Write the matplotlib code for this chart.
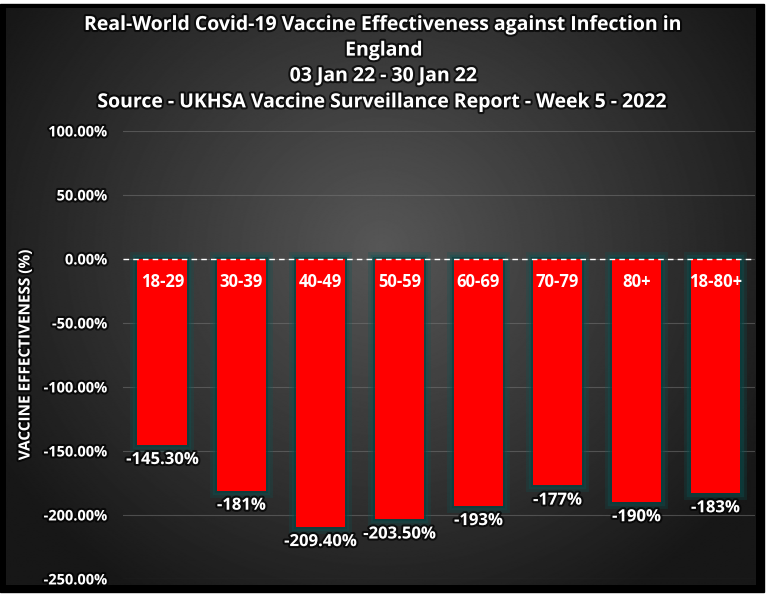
import numpy as np
import matplotlib.pyplot as plt
import matplotlib.patheffects as pe
from matplotlib.patches import Rectangle

groups = ['18-29', '30-39', '40-49', '50-59', '60-69', '70-79', '80+', '18-80+']
effectiveness = [-145.3, -181, -209.4, -203.5, -193, -177, -190, -183]
value_labels = ['-145.30%', '-181%', '-209.40%', '-203.50%', '-193%', '-177%', '-190%', '-183%']
title_lines = ['Real-World Covid-19 Vaccine Effectiveness against Infection in',
               'England',
               '03 Jan 22 - 30 Jan 22',
               'Source - UKHSA Vaccine Surveillance Report - Week 5 - 2022']

plt.rcParams['font.family'] = ['Open Sans', 'DejaVu Sans']

fig = plt.figure(figsize=(7.68, 5.95), dpi=100, facecolor='white')

# background: black frame with a radial grey gradient inside
bg = fig.add_axes([0, 0, 1, 1], zorder=-10)
bg.set_xlim(0, 768)
bg.set_ylim(595, 0)
bg.axis('off')
bg.add_patch(Rectangle((0, 4), 764, 588, color='black', zorder=1))
yy, xx = np.mgrid[0:580, 0:752]
r = np.sqrt(((xx - 376) / 430.0) ** 2 + ((yy - 240) / 400.0) ** 2)
shade = np.clip(0.34 - 0.24 * r, 0.09, 0.34)
bg.imshow(shade, cmap='gray', vmin=0, vmax=1, extent=(6, 756, 585, 8),
          aspect='auto', zorder=2)

glow = [pe.withStroke(linewidth=3, foreground='black', alpha=0.7)]

ys = [0.958, 0.915, 0.872, 0.828]
for t, y in zip(title_lines, ys):
    fig.text(0.5, y, t, ha='center', va='center', color='white', fontsize=14,
             fontweight='bold', path_effects=glow)

ax = fig.add_axes([0.160, 0.027, 0.823, 0.753])
ax.patch.set_alpha(0)
x = np.arange(len(groups))
bar_glow = [pe.withStroke(linewidth=10, foreground='#0b5555', alpha=0.25),
            pe.withStroke(linewidth=6, foreground='#0b5555', alpha=0.35),
            pe.withStroke(linewidth=3, foreground='#083c3c', alpha=0.6)]
bars = ax.bar(x, effectiveness, width=0.63, color='#ff0000', zorder=3,
              path_effects=bar_glow)
ax.set_xlim(-0.5, len(groups) - 0.5)
ax.set_ylim(-250, 100)
ax.set_yticks(np.arange(-250, 101, 50))
ax.set_yticklabels(['%.2f%%' % v for v in np.arange(-250, 101, 50)])
ax.tick_params(axis='y', length=0, pad=11, colors='white', labelsize=10.5)
for lab in ax.get_yticklabels():
    lab.set_fontweight('bold')
    lab.set_path_effects(glow)
ax.set_xticks([])
for s in ax.spines.values():
    s.set_visible(False)
ax.grid(axis='y', color='#7a7a7a', linewidth=0.8, alpha=0.5, zorder=0)
ax.axhline(0, color='white', linestyle='--', linewidth=1, dashes=(4, 3), zorder=4)

for i in range(len(groups)):
    ax.text(x[i], -18, groups[i], ha='center', va='center', color='white',
            fontsize=12, fontweight='bold', zorder=5)
    ax.text(x[i], effectiveness[i] - 11, value_labels[i], ha='center', va='center',
            color='white', fontsize=12, fontweight='bold', zorder=5, path_effects=glow)

ax.set_ylabel('VACCINE EFFECTIVENESS (%)', color='white', fontsize=11,
              fontweight='bold', labelpad=8, path_effects=glow)

fig.savefig('out.png', dpi=100, facecolor='white')
